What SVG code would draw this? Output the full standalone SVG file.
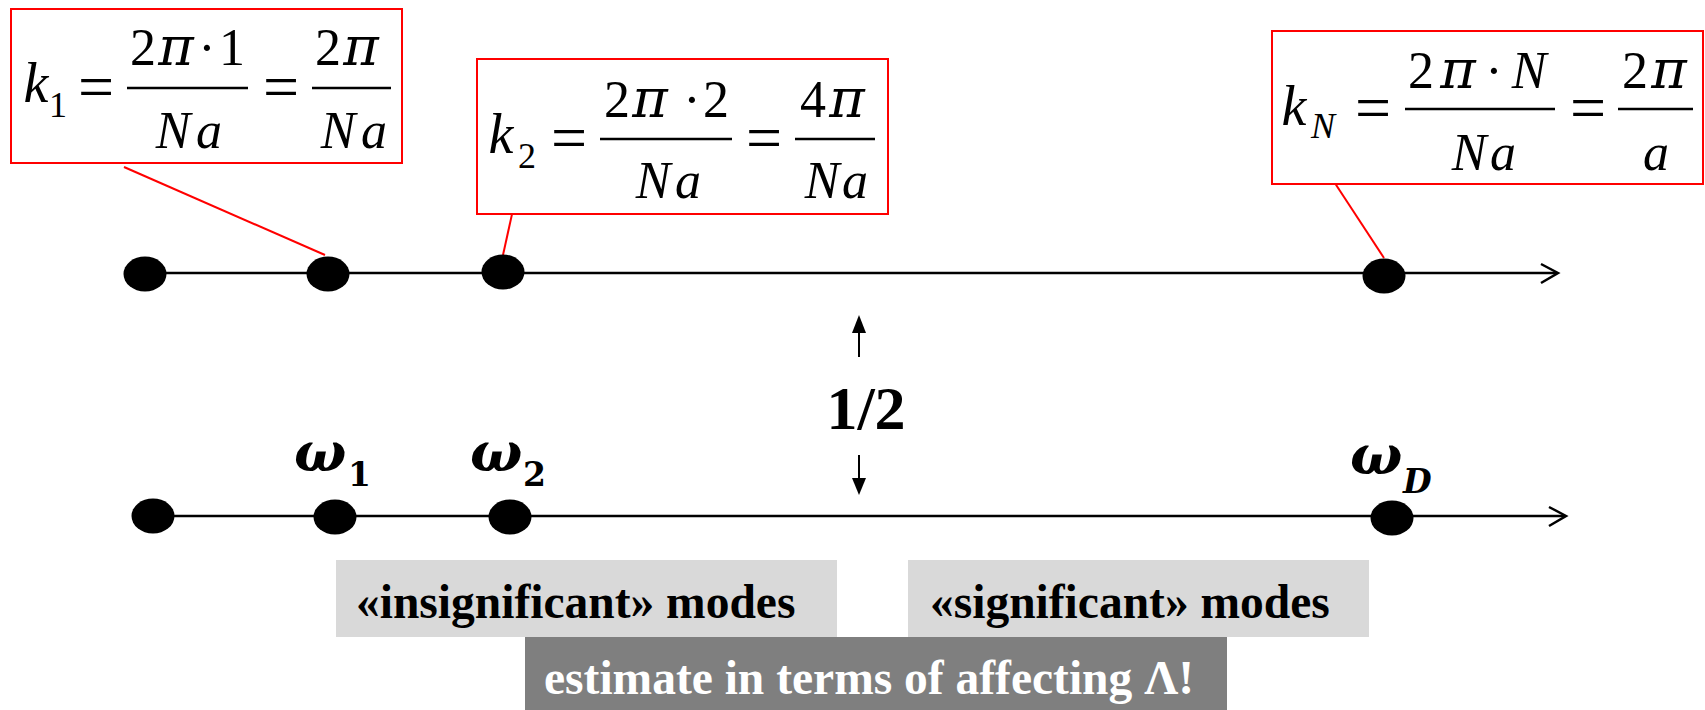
<svg xmlns="http://www.w3.org/2000/svg" width="1705" height="710" viewBox="0 0 1705 710">
<style>
.m{font-family:"Liberation Serif","Times New Roman",serif;font-size:52px;fill:#000}
.i{font-style:italic}
.k{font-size:56px;font-style:italic}
.sub{font-size:36px}
.pi{font-family:"DejaVu Serif",serif;font-style:italic;font-size:54px}
.eq{font-size:64px}
.box{fill:#fff;stroke:#ff0000;stroke-width:2}
.fl{stroke:#000;stroke-width:2.5}
.lead{stroke:#ff0000;stroke-width:2;fill:none}
.ax{stroke:#000;stroke-width:2.5;fill:none}
.dot{fill:#000}
.w{font-family:"DejaVu Serif",serif;font-weight:bold;font-style:italic;font-size:55px;fill:#000}
.ws{font-family:"DejaVu Serif",serif;font-weight:bold;font-size:33px;fill:#000}
.lbl{font-family:"Liberation Serif","Times New Roman",serif;font-weight:bold;font-size:47.5px}
</style>
<rect width="1705" height="710" fill="#fff"/>
<g id="connectors">
<line class="lead" x1="124" y1="167" x2="325" y2="255"/>
<line class="lead" x1="516" y1="196" x2="503" y2="255"/>
<line class="lead" x1="1325" y1="168" x2="1384" y2="258"/>
<line class="ax" x1="145" y1="273" x2="1557" y2="273"/>
<polyline class="ax" points="1541,264 1558,273 1541,283"/>
<line class="ax" x1="153" y1="516" x2="1565" y2="516"/>
<polyline class="ax" points="1549,507 1566,516 1549,526"/>
<line stroke="#000" stroke-width="2" x1="859" y1="357" x2="859" y2="330"/>
<polygon points="859,315 852,333 866,333" fill="#000"/>
<line stroke="#000" stroke-width="2" x1="859" y1="455" x2="859" y2="480"/>
<polygon points="859,495 852,478 866,478" fill="#000"/>
</g>
<g id="k1">
<rect class="box" x="11" y="9" width="391" height="154"/>
<text class="m" text-anchor="middle"><tspan class="k" x="36" y="102">k</tspan><tspan class="sub" x="58" y="117">1</tspan><tspan class="eq" x="96" y="108">=</tspan><tspan x="143" y="65">2</tspan><tspan class="pi" x="176" y="65">π</tspan><tspan x="207" y="65">·</tspan><tspan x="232" y="65">1</tspan><tspan class="i" x="173" y="148">N</tspan><tspan class="i" x="209" y="148">a</tspan><tspan class="eq" x="281" y="108">=</tspan><tspan x="328" y="65">2</tspan><tspan class="pi" x="361" y="65">π</tspan><tspan class="i" x="338" y="148">N</tspan><tspan class="i" x="374" y="148">a</tspan></text>
<line class="fl" x1="127" y1="88" x2="248" y2="88"/>
<line class="fl" x1="312" y1="88" x2="391" y2="88"/>
</g>
<g id="k2">
<rect class="box" x="477" y="59" width="411" height="155"/>
<text class="m" text-anchor="middle"><tspan class="k" x="501" y="153">k</tspan><tspan class="sub" x="527" y="168">2</tspan><tspan class="eq" x="569" y="159">=</tspan><tspan x="617" y="117">2</tspan><tspan class="pi" x="650" y="117">π</tspan><tspan x="692" y="117">·</tspan><tspan x="716" y="117">2</tspan><tspan class="i" x="653" y="198">N</tspan><tspan class="i" x="688" y="198">a</tspan><tspan class="eq" x="764" y="159">=</tspan><tspan x="813" y="117">4</tspan><tspan class="pi" x="847" y="117">π</tspan><tspan class="i" x="822" y="198">N</tspan><tspan class="i" x="855" y="198">a</tspan></text>
<line class="fl" x1="600" y1="139" x2="732" y2="139"/>
<line class="fl" x1="795" y1="139" x2="875" y2="139"/>
</g>
<g id="kN">
<rect class="box" x="1272" y="31" width="431" height="153"/>
<text class="m" text-anchor="middle"><tspan class="k" x="1294" y="125">k</tspan><tspan class="sub i" x="1323" y="138">N</tspan><tspan class="eq" x="1373" y="129">=</tspan><tspan x="1421" y="88">2</tspan><tspan class="pi" x="1458" y="88">π</tspan><tspan x="1494" y="88">·</tspan><tspan class="i" x="1529" y="88">N</tspan><tspan class="i" x="1469" y="170">N</tspan><tspan class="i" x="1503" y="170">a</tspan><tspan class="eq" x="1588" y="129">=</tspan><tspan x="1635" y="88">2</tspan><tspan class="pi" x="1669" y="88">π</tspan><tspan class="i" x="1656" y="170">a</tspan></text>
<line class="fl" x1="1405" y1="109" x2="1555" y2="109"/>
<line class="fl" x1="1618" y1="109" x2="1693" y2="109"/>
</g>
<g id="top-dots">
<ellipse class="dot" cx="145" cy="274" rx="21.5" ry="17.5"/>
<ellipse class="dot" cx="328" cy="274" rx="21.5" ry="17.5"/>
<ellipse class="dot" cx="503" cy="272" rx="21.5" ry="17.5"/>
<ellipse class="dot" cx="1384" cy="276" rx="21.5" ry="17.5"/>
</g>
<g id="half">
<text x="866" y="429" text-anchor="middle" font-family="Liberation Serif, serif" font-weight="bold" font-size="62">1/2</text>
</g>
<g id="bottom-dots">
<ellipse class="dot" cx="153" cy="516" rx="21.5" ry="17.5"/>
<ellipse class="dot" cx="335" cy="517" rx="21.5" ry="17.5"/>
<ellipse class="dot" cx="510" cy="517" rx="21.5" ry="17.5"/>
<ellipse class="dot" cx="1392" cy="518" rx="21.5" ry="17.5"/>
</g>
<g id="omega1"><text class="w" x="294" y="471">ω</text><text class="ws" x="348" y="486">1</text></g>
<g id="omega2"><text class="w" x="470" y="471">ω</text><text class="ws" x="523" y="486">2</text></g>
<g id="omegaD"><text class="w" x="1350" y="474">ω</text><text class="ws" font-style="italic" x="1403" y="493">D</text></g>
<g id="insignificant">
<rect x="336" y="560" width="501" height="77" fill="#d9d9d9"/>
<text class="lbl" x="356" y="618" fill="#000">«insignificant» modes</text>
</g>
<g id="significant">
<rect x="908" y="560" width="461" height="77" fill="#d9d9d9"/>
<text class="lbl" x="930" y="618" fill="#000">«significant» modes</text>
</g>
<g id="estimate">
<rect x="525" y="637" width="702" height="73" fill="#7f7f7f"/>
<text class="lbl" x="544" y="694" fill="#fff" font-size="48.5">estimate in terms of affecting Λ!</text>
</g>
</svg>
